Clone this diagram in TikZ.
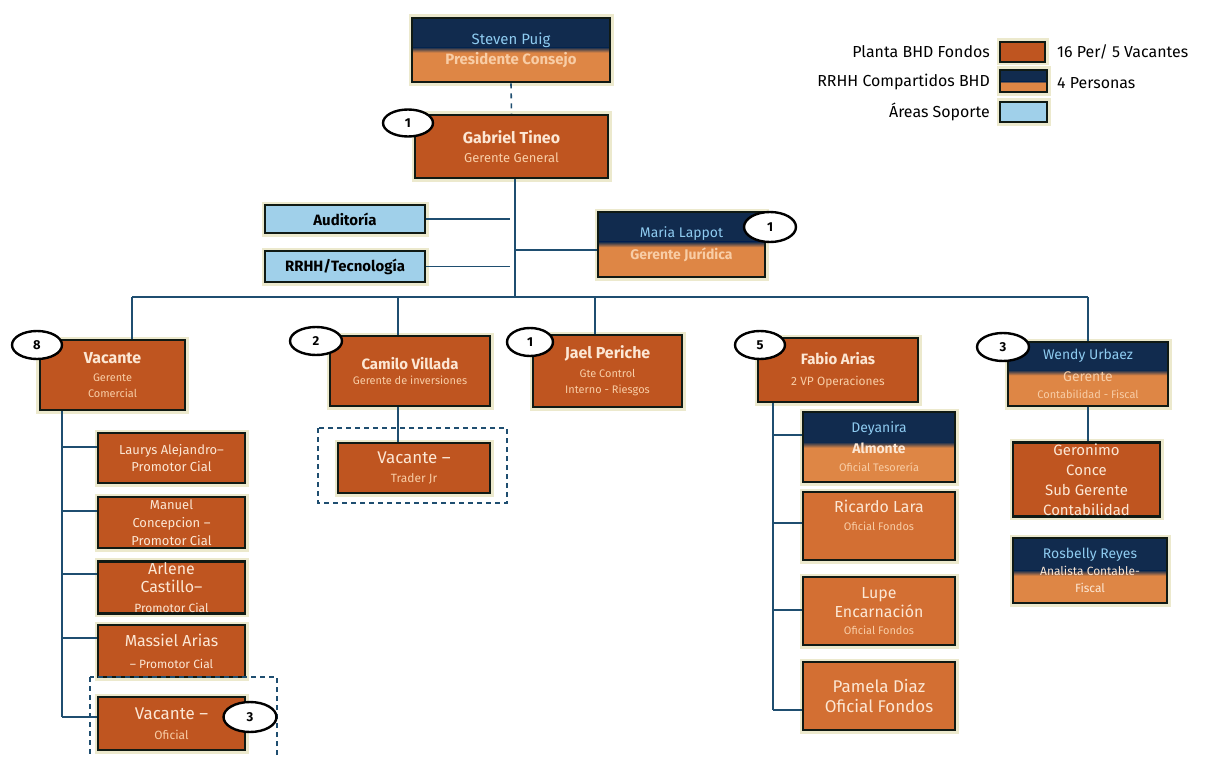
\documentclass[tikz,border=0pt]{standalone}
\usepackage{fontspec}
\setmainfont{Fira Sans}
\usetikzlibrary{calc,shapes.geometric}
\definecolor{navy}{HTML}{112B4E}
\definecolor{dorange}{HTML}{BF5520}
\definecolor{morange}{HTML}{D36F33}
\definecolor{lorange}{HTML}{DE8645}
\definecolor{lbluebox}{HTML}{A0D0EA}
\definecolor{bordc}{HTML}{101A14}
\definecolor{cream}{HTML}{FCE7D4}
\definecolor{peach}{HTML}{F8CDA6}
\definecolor{ltxt}{HTML}{8ECBF0}
\definecolor{connc}{HTML}{1F4E70}
\definecolor{glowc}{HTML}{E4E1B8}
\newcommand\myfs[2]{\fontsize{#1}{#2}\selectfont}
\begin{document}
\begin{tikzpicture}[x=1bp,y=-1bp,
  box/.style={draw=bordc, line width=2.6bp, inner sep=1bp, align=center, text=cream,
    preaction={draw=glowc, line width=7bp, opacity=0.7}},
  sz/.style 2 args={minimum width=#1bp, minimum height=#2bp},
  dbox/.style={box, fill=dorange},
  mbox/.style={box, fill=morange},
  bbox/.style={box, fill=lbluebox, text=black},
  tt/.style={box, fill=lorange, path picture={
    \fill[navy] (path picture bounding box.north west) rectangle ($(path picture bounding box.north east)!#1-0.04!(path picture bounding box.south east)$);
    \shade[top color=navy, bottom color=lorange] ($(path picture bounding box.north west)!#1-0.041!(path picture bounding box.south west)$) rectangle ($(path picture bounding box.north east)!#1+0.04!(path picture bounding box.south east)$);}},
  num/.style={ellipse, draw=black, line width=2.4bp, fill=white, inner sep=0pt, font=\myfs{13}{15}\bfseries},
  conn/.style={draw=connc, line width=1.6bp},
  dashbox/.style={draw=connc, line width=1.4bp, dash pattern=on 5bp off 4bp},
  legtxt/.style={font=\myfs{16}{18}, text=black, inner sep=0pt}
]
\fill[white] (0,0) rectangle (1209,758);
\useasboundingbox (0,0) rectangle (1209,758);

% ---------- legend ----------
\node[legtxt, anchor=east] (lt1) at (990,52) {Planta BHD Fondos};
\node[legtxt, anchor=east] (lt2) at (990,82) {RRHH Compartidos BHD};
\node[legtxt, anchor=east] (lt3) at (990,112) {Áreas Soporte};
\node[dbox, sz={45}{20}, line width=2.4bp] (lb1) at (1022.5,52) {};
\node[tt=0.55, sz={47}{22}, line width=2.4bp] (lb2) at (1023.5,81) {};
\node[bbox, sz={47}{20}, line width=2.4bp] (lb3) at (1023.5,112) {};
\node[legtxt, anchor=west] (lr1) at (1057,52) {16 Per/ 5 Vacantes};
\node[legtxt, anchor=west] (lr2) at (1057,83) {4 Personas};

% ---------- top ----------
\node[tt=0.5, sz={198}{64}, font=\myfs{15}{20}] (stv) at (511,50)
  {{\color{ltxt}Steven Puig}\\{\bfseries\color{peach}Presidente Consejo}};
\node[dbox, sz={193}{63}, font=\myfs{16}{19}] (gab) at (511.5,146.5)
  {{\bfseries Gabriel Tineo}\\{\myfs{13}{15}\color{peach}Gerente General}};
\draw[conn, dash pattern=on 5bp off 5bp] (stv.south) -- (gab.north);

\node[bbox, sz={160}{28}, font=\myfs{15}{17}\bfseries] (aud) at (345,219) {Auditoría};
\node[bbox, sz={160}{31}, font=\myfs{15}{17}\bfseries] (rrhh) at (345,266.5) {RRHH/Tecnología};
\node[tt=0.5, sz={167}{65}, font=\myfs{14}{22}] (mar) at (681.5,244.5)
  {{\color{ltxt}Maria Lappot}\\{\bfseries\color{peach}Gerente Jurídica}};

% ---------- second row ----------
\node[dbox, sz={145}{70}, font=\myfs{16}{16}] (vgc) at (112.5,375)
  {{\bfseries Vacante}\\[3bp]{\myfs{11}{13}\color{peach}Gerente}\\{\myfs{11}{13}\color{peach}Comercial}};
\node[dbox, sz={160}{70}, font=\myfs{15}{16}] (cam) at (410,371)
  {{\bfseries Camilo Villada}\\{\myfs{11}{13}\color{peach}Gerente de inversiones}};
\node[dbox, sz={149}{72}, font=\myfs{16}{16}] (jael) at (607.5,371)
  {{\bfseries Jael Periche}\\[3bp]{\myfs{11}{13}\color{peach}Gte Control}\\{\myfs{11}{13}\color{peach}Interno - Riesgos}};
\node[dbox, sz={160}{64}, font=\myfs{15}{21}] (fab) at (838,370)
  {{\bfseries Fabio Arias}\\{\myfs{12}{14}\color{peach}2 VP Operaciones}};
\node[tt=0.48, sz={160}{64}, font=\myfs{14}{17}] (wen) at (1088,374)
  {{\color{ltxt}Wendy Urbaez}\\[5bp]{\color{peach}Gerente}\\{\myfs{11}{13}\color{peach}Contabilidad - Fiscal}};

% ---------- Camilo subtree ----------
\node[dbox, sz={152}{50}, font=\myfs{17}{20}] (trd) at (414,468)
  {Vacante –\\{\myfs{12}{14}\color{peach}Trader Jr}};
\draw[dashbox] (318,428) rectangle (507,503);

% ---------- left column ----------
\node[dbox, sz={147}{50}, font=\myfs{13}{17}] (lau) at (171.5,458)
  {Laurys Alejandro–\\Promotor Cial};
\node[dbox, sz={147}{51}, font=\myfs{13}{18}] (man) at (171.5,522.5)
  {Manuel\\Concepcion –\\Promotor Cial};
\node[dbox, sz={147}{51}, font=\myfs{16}{18}] (arl) at (171.5,587.5)
  {Arlene\\Castillo–\\[2bp]{\myfs{12}{14}Promotor Cial}};
\node[dbox, sz={147}{52}, font=\myfs{16}{22}] (mas) at (171.5,651)
  {Massiel Arias\\{\myfs{12}{14}– Promotor Cial}};
\node[dbox, sz={147}{53}, font=\myfs{17}{20}] (vof) at (171.5,723.5)
  {Vacante –\\{\myfs{12}{14}\color{peach}Oficial}};
\draw[dashbox] (90,677) rectangle (277,762);

% ---------- Fabio column ----------
\node[tt=0.47, sz={152}{70}, font=\myfs{14}{18}] (dey) at (879,447)
  {{\color{ltxt}Deyanira}\\[3bp]{\bfseries Almonte}\\{\myfs{11}{13}\color{peach}Oficial Tesorería}};
\node[mbox, sz={152}{68}, font=\myfs{16}{18}, text depth=22bp] (ric) at (879,526)
  {Ricardo Lara\\{\myfs{11}{13}\color{peach}Oficial Fondos}};
\node[mbox, sz={152}{68}, font=\myfs{16}{20}] (lup) at (879,611)
  {Lupe\\Encarnación\\[-3bp]{\myfs{11}{13}\color{peach}Oficial Fondos}};
\node[mbox, sz={152}{68}, font=\myfs{17}{21}] (pam) at (879,696)
  {Pamela Diaz\\Oficial Fondos};

% ---------- Wendy column ----------
\node[dbox, sz={147}{65}, font=\myfs{15}{20}] (ger) at (1086.5,479.5)
  {Geronimo\\Conce\\Sub Gerente\\Contabilidad};
\node[tt=0.54, sz={154}{65}, font=\myfs{14}{17}] (ros) at (1090,570.5)
  {{\color{ltxt}Rosbelly Reyes}\\{\myfs{12}{14}Analista Contable-}\\{\myfs{12}{14}Fiscal}};

% ---------- connectors ----------
\coordinate (trunk) at (515,297);
\coordinate (audend) at (510,0);
\coordinate (busL) at (132,297);
\coordinate (busR) at (1088,297);
\coordinate (bc) at (398,297);
\coordinate (bj) at (595,297);
\coordinate (lc) at (62,717);
\coordinate (fc) at (773,710);

\draw[conn] (trunk |- gab.south) -- (trunk);
\draw[conn] (aud.east) -- (aud.east -| audend);
\draw[conn] (rrhh.east) -- (rrhh.east -| audend);
\draw[conn] (trunk |- 0,250) -- (mar.west |- 0,250);
\draw[conn] (busL) -- (busR);
\draw[conn] (busL) -- (busL |- vgc.north);
\draw[conn] (bc) -- (bc |- cam.north);
\draw[conn] (cam.south -| bc) -- (trd.north -| bc);
\draw[conn] (bj) -- (bj |- jael.north);
\draw[conn] (busR) -- (busR |- wen.north);
\draw[conn] (wen.south -| busR) -- (ger.north -| busR);

\draw[conn] (vgc.south -| lc) -- (lc);
\draw[conn] (lc |- 0,447) -- (lau.west |- 0,447);
\draw[conn] (lc |- 0,511) -- (man.west |- 0,511);
\draw[conn] (lc |- 0,574) -- (arl.west |- 0,574);
\draw[conn] (lc |- 0,638) -- (mas.west |- 0,638);
\draw[conn] (lc) -- (vof.west |- lc);

\draw[conn] (fab.south -| fc) -- (fc);
\draw[conn] (fc |- 0,435) -- (dey.west |- 0,435);
\draw[conn] (fc |- 0,523) -- (ric.west |- 0,523);
\draw[conn] (fc |- 0,610) -- (lup.west |- 0,610);
\draw[conn] (fc) -- (pam.west |- fc);

% ---------- count ellipses ----------
\node[num, minimum width=50bp, minimum height=27bp] (n1) at (408,123) {1};
\node[num, minimum width=52bp, minimum height=30bp] (n2) at (770,227) {1};
\node[num, minimum width=50bp, minimum height=28bp] (n3) at (37,345) {8};
\node[num, minimum width=52bp, minimum height=28bp] (n4) at (316,341) {2};
\node[num, minimum width=46bp, minimum height=28bp] (n5) at (530,342) {1};
\node[num, minimum width=50bp, minimum height=28bp] (n6) at (760,345) {5};
\node[num, minimum width=52bp, minimum height=28bp] (n7) at (1003,347) {3};
\node[num, minimum width=53bp, minimum height=30bp] (n8) at (250,717) {3};
\end{tikzpicture}
\end{document}
